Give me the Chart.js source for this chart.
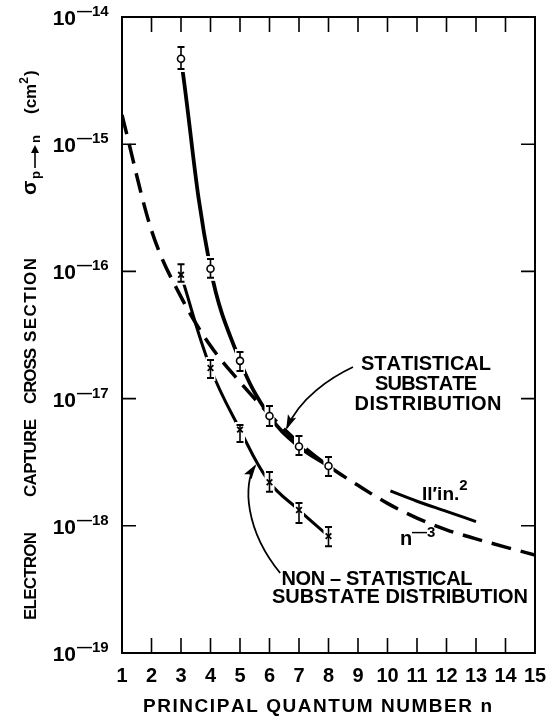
<!DOCTYPE html>
<html>
<head>
<meta charset="utf-8">
<script src="https://cdn.jsdelivr.net/npm/chart.js@4.4.1/dist/chart.umd.min.js"></script>
<style>
  html, body { margin: 0; padding: 0; background: #fff; }
  #wrap { width: 553px; height: 716px; }
</style>
</head>
<body>
<div id="wrap"><canvas id="chart" width="553" height="716"></canvas></div>
<script>
// ─── Data ─────────────────────────────────────────────────────────────────────
const N_MEASURED = [3, 4, 5, 6, 7, 8];

// statistical substate distribution (open circles)
const STAT = [4.7e-15, 1.05e-16, 1.98e-17, 7.3e-18, 4.2e-18, 2.95e-18];
const STAT_HI = [5.8e-15, 1.25e-16, 2.32e-17, 8.75e-18, 5.08e-18, 3.47e-18];
const STAT_LO = [3.9e-15, 8.9e-17, 1.65e-17, 6.1e-18, 3.6e-18, 2.46e-18];

// non-statistical substate distribution (crosses)
const NONSTAT = [9.4e-17, 1.74e-17, 5.7e-18, 2.2e-18, 1.33e-18, 8.3e-19];
const NONSTAT_HI = [1.14e-16, 2.01e-17, 6.2e-18, 2.65e-18, 1.51e-18, 9.8e-19];
const NONSTAT_LO = [8.3e-17, 1.45e-17, 4.56e-18, 1.85e-18, 1.05e-18, 6.9e-19];

// dashed n^-3 curve
const N_FULL = [1, 2, 3, 4, 5, 6, 7, 8, 9, 10, 11, 12, 13, 14, 15];
const N3_CURVE = [1.7e-15, 2.1e-16, 6.3e-17, 2.6e-17, 1.35e-17, 7.5e-18, 4.5e-18,
  2.95e-18, 2.08e-18, 1.5e-18, 1.15e-18, 9.3e-19, 7.9e-19, 6.8e-19, 5.9e-19];

// Il'in n^2 segment
const N_ILIN = [10.1, 11, 12, 13];
const ILIN = [1.88e-18, 1.56e-18, 1.3e-18, 1.08e-18];

// axes
const X_TICKS = [1, 2, 3, 4, 5, 6, 7, 8, 9, 10, 11, 12, 13, 14, 15];
const Y_EXPONENTS = [-14, -15, -16, -17, -18, -19];

// annotation arrows as [n, log10(sigma)] : start, control 1, control 2, tip
const ARROW_STAT = [[8.83, -16.752], [8.05, -16.838], [7.03, -16.995], [6.59, -17.231]];
const ARROW_NONSTAT = [[6.36, -18.371], [5.17, -18.033], [5.10, -17.671], [5.51, -17.53]];

const FONT = '"Liberation Sans", Arial, sans-serif';

const pts = (xs, ys) => xs.map((x, i) => ({ x, y: ys[i] }));

// ─── Helpers ──────────────────────────────────────────────────────────────────
// draw text letter by letter, stretched to a given width
function spaced(ctx, text, x, y, width, align) {
  const chars = [...text];
  const natural = chars.reduce((s, c) => s + ctx.measureText(c).width, 0);
  const gap = chars.length > 1 ? (width - natural) / (chars.length - 1) : 0;
  let cx = align === 'center' ? x - width / 2 : align === 'right' ? x - width : x;
  ctx.textAlign = 'left';
  chars.forEach(c => {
    ctx.fillText(c, cx, y);
    cx += ctx.measureText(c).width + gap;
  });
}

function drawErrorBars(chart, ns, hi, lo) {
  const { ctx, scales: { x, y } } = chart;
  ctx.save();
  ns.forEach((n, i) => {
    const px = x.getPixelForValue(n);
    const top = y.getPixelForValue(hi[i]);
    const bot = y.getPixelForValue(lo[i]);
    // white halo makes the little gaps in the curves
    ctx.fillStyle = '#fff';
    ctx.fillRect(px - 5, top - 3, 10, bot - top + 6);
    ctx.strokeStyle = '#000';
    ctx.lineWidth = 1.6;
    ctx.beginPath();
    ctx.moveTo(px, top); ctx.lineTo(px, bot);
    ctx.stroke();
    ctx.lineWidth = 2;
    ctx.beginPath();
    ctx.moveTo(px - 3.5, top); ctx.lineTo(px + 3.5, top);
    ctx.moveTo(px - 3.5, bot); ctx.lineTo(px + 3.5, bot);
    ctx.stroke();
  });
  ctx.restore();
}

function drawArrow(chart, spec) {
  const { ctx, scales: { x, y } } = chart;
  const p = spec.map(([n, lg]) => ({ x: x.getPixelForValue(n), y: y.getPixelForValue(Math.pow(10, lg)) }));
  ctx.save();
  ctx.strokeStyle = '#000';
  ctx.fillStyle = '#000';
  ctx.lineWidth = 1.8;
  ctx.beginPath();
  ctx.moveTo(p[0].x, p[0].y);
  ctx.bezierCurveTo(p[1].x, p[1].y, p[2].x, p[2].y, p[3].x, p[3].y);
  ctx.stroke();
  const ang = Math.atan2(p[3].y - p[2].y, p[3].x - p[2].x);
  const L = 13, W = 4.5;
  ctx.translate(p[3].x, p[3].y);
  ctx.rotate(ang);
  ctx.beginPath();
  ctx.moveTo(2, 0);
  ctx.lineTo(-L, -W);
  ctx.lineTo(-L + 3, 0);
  ctx.lineTo(-L, W);
  ctx.closePath();
  ctx.fill();
  ctx.restore();
}

// ─── Frame, ticks, labels ─────────────────────────────────────────────────────
const framePlugin = {
  id: 'frame',
  beforeDatasetsDraw(chart) {
    const { ctx, chartArea: a, scales: { x, y } } = chart;
    ctx.save();
    ctx.strokeStyle = '#000';
    ctx.lineWidth = 2;
    ctx.strokeRect(a.left, a.top, a.right - a.left, a.bottom - a.top);
    ctx.lineWidth = 1.6;
    ctx.beginPath();
    X_TICKS.slice(1, -1).forEach(n => {
      const px = x.getPixelForValue(n);
      ctx.moveTo(px, a.bottom); ctx.lineTo(px, a.bottom - 15);
      ctx.moveTo(px, a.top); ctx.lineTo(px, a.top + 15);
    });
    Y_EXPONENTS.slice(1, -1).forEach(e => {
      const py = y.getPixelForValue(Math.pow(10, e));
      ctx.moveTo(a.left, py); ctx.lineTo(a.left + 14, py);
      ctx.moveTo(a.right, py); ctx.lineTo(a.right - 14, py);
    });
    ctx.stroke();
    ctx.restore();
  },
  beforeDatasetDraw(chart, args) {
    const id = chart.data.datasets[args.index].id;
    if (id === 'statPts') drawErrorBars(chart, N_MEASURED, STAT_HI, STAT_LO);
    if (id === 'nonstatPts') drawErrorBars(chart, N_MEASURED, NONSTAT_HI, NONSTAT_LO);
  },
  afterDraw(chart) {
    const { ctx, chartArea: a, scales: { x, y } } = chart;
    ctx.save();
    ctx.fillStyle = '#000';
    ctx.strokeStyle = '#000';
    ctx.textBaseline = 'alphabetic';

    // x tick labels
    ctx.font = `bold 20px ${FONT}`;
    ctx.textAlign = 'center';
    X_TICKS.forEach(n => ctx.fillText(String(n), x.getPixelForValue(n), a.bottom + 29));

    // y tick labels 10^e
    Y_EXPONENTS.forEach(e => {
      const py = y.getPixelForValue(Math.pow(10, e));
      ctx.font = `bold 21px ${FONT}`;
      ctx.textAlign = 'right';
      ctx.fillText('10', a.left - 46, py + 8);
      ctx.font = `bold 15px ${FONT}`;
      ctx.textAlign = 'left';
      ctx.fillText('\u2014' + String(-e), a.left - 45, py - 1);
    });

    // x axis title
    ctx.font = `bold 19px ${FONT}`;
    spaced(ctx, 'PRINCIPAL QUANTUM NUMBER n', 143, a.bottom + 59, 349, 'left');

    // y axis title (rotated)
    ctx.save();
    ctx.translate(36, 0);
    ctx.rotate(-Math.PI / 2);
    ctx.font = `bold 17px ${FONT}`;
    [['ELECTRON', 576, 88], ['CAPTURE', 458, 78], ['CROSS', 376, 56], ['SECTION', 300, 84]]
      .forEach(([w, cy, wd]) => spaced(ctx, w, -cy, 0, wd, 'center'));
    ctx.font = `bold 21px ${FONT}`;
    ctx.textAlign = 'left';
    ctx.fillText('\u03c3', -195, 0);
    ctx.font = `bold 13px ${FONT}`;
    ctx.fillText('p', -179, 4);
    // subscript arrow p -> n
    ctx.lineWidth = 1.6;
    ctx.beginPath();
    ctx.moveTo(-168, -1); ctx.lineTo(-150, -1);
    ctx.stroke();
    ctx.beginPath();
    ctx.moveTo(-145, -1); ctx.lineTo(-153, -5); ctx.lineTo(-153, 3);
    ctx.closePath();
    ctx.fill();
    ctx.fillText('n', -143, 4);
    ctx.font = `bold 17px ${FONT}`;
    ctx.fillText('(cm', -114, 0);
    const wcm = ctx.measureText('(cm').width;
    ctx.font = `bold 12px ${FONT}`;
    ctx.fillText('2', -114 + wcm, -8);
    const w2 = ctx.measureText('2').width;
    ctx.font = `bold 17px ${FONT}`;
    ctx.fillText(')', -114 + wcm + w2 + 1, 0);
    ctx.restore();

    // curve annotations
    ctx.font = `bold 20px ${FONT}`;
    spaced(ctx, 'STATISTICAL', 426, 370, 130, 'center');
    spaced(ctx, 'SUBSTATE', 426, 390, 102, 'center');
    spaced(ctx, 'DISTRIBUTION', 428, 410, 147, 'center');
    spaced(ctx, 'NON \u2013 STATISTICAL', 377, 585, 191, 'center');
    spaced(ctx, 'SUBSTATE DISTRIBUTION', 400, 603, 256, 'center');

    ctx.textAlign = 'left';
    ctx.font = `bold 19px ${FONT}`;
    ctx.fillText('Il\u2032in.', 422, 500);
    const wil = ctx.measureText('Il\u2032in.').width;
    ctx.font = `bold 15px ${FONT}`;
    ctx.fillText('2', 422 + wil, 490);
    ctx.font = `bold 20px ${FONT}`;
    ctx.fillText('n', 400, 545);
    ctx.font = `bold 15px ${FONT}`;
    ctx.fillText('\u2014' + '3', 412, 537);

    ctx.restore();

    drawArrow(chart, ARROW_STAT);
    drawArrow(chart, ARROW_NONSTAT);
  }
};

// ─── Chart ────────────────────────────────────────────────────────────────────
new Chart(document.getElementById('chart'), {
  type: 'scatter',
  data: {
    datasets: [
      { id: 'n3', data: pts(N_FULL, N3_CURVE), showLine: true, borderColor: '#000', borderWidth: 3.5,
        borderDash: [20, 10], pointRadius: 0, cubicInterpolationMode: 'monotone', order: 3 },
      { id: 'statCurve', data: pts(N_MEASURED, STAT), showLine: true, borderColor: '#000', borderWidth: 3.8,
        pointRadius: 0, tension: 0.4, order: 2 },
      { id: 'nonstatCurve', data: pts(N_MEASURED, NONSTAT), showLine: true, borderColor: '#000', borderWidth: 3,
        pointRadius: 0, tension: 0.4, order: 2 },
      { id: 'ilin', data: pts(N_ILIN, ILIN), showLine: true, borderColor: '#000', borderWidth: 3,
        pointRadius: 0, cubicInterpolationMode: 'monotone', order: 2 },
      { id: 'statPts', data: pts(N_MEASURED, STAT), pointStyle: 'circle', pointRadius: 3.5,
        pointBackgroundColor: '#fff', pointBorderColor: '#000', pointBorderWidth: 1.6, order: 1 },
      { id: 'nonstatPts', data: pts(N_MEASURED, NONSTAT), pointStyle: 'crossRot', pointRadius: 4,
        pointBorderColor: '#000', pointBorderWidth: 1.8, order: 1 },
    ],
  },
  options: {
    responsive: false,
    animation: false,
    devicePixelRatio: 1,
    layout: { padding: { left: 122, top: 17, right: 18, bottom: 63 } },
    plugins: { legend: { display: false }, tooltip: { enabled: false } },
    scales: {
      x: { type: 'linear', min: 1, max: 15, display: false },
      y: { type: 'logarithmic', min: 1e-19, max: 1e-14, display: false },
    },
  },
  plugins: [framePlugin],
});
</script>
</body>
</html>
